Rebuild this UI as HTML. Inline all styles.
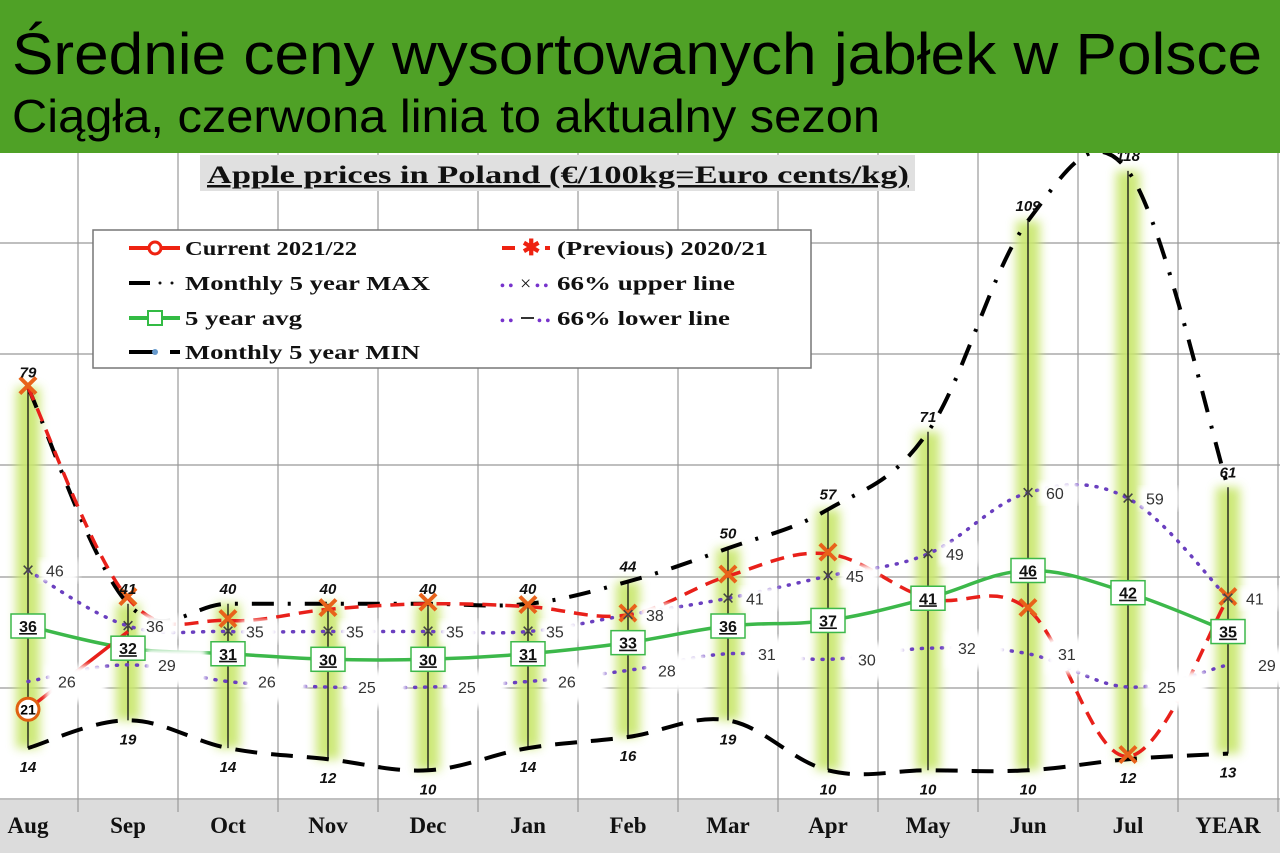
<!DOCTYPE html>
<html><head><meta charset="utf-8"><style>
html,body{margin:0;padding:0;width:1280px;height:853px;overflow:hidden;background:#fff}
</style></head><body>
<svg id="s" width="1280" height="853" xmlns="http://www.w3.org/2000/svg" font-family="Liberation Sans, sans-serif">
<defs><filter id="bl" x="-1" y="-0.2" width="3" height="1.4"><feGaussianBlur stdDeviation="5"/></filter>
<filter id="wb"><feGaussianBlur stdDeviation="3"/></filter></defs>
<rect x="0" y="0" width="1280" height="853" fill="#fff"/>
<rect x="0" y="800" width="1280" height="53" fill="#dcdcdc"/>
<g id="grid" stroke="#999" stroke-width="1.2"></g>
<g id="bars"></g>
<g id="lines"></g>
<g id="labels" font-size="15"></g>
<rect x="200" y="155" width="715" height="36" fill="#e0e0e0"/>
<text x="207" y="183" textLength="702" lengthAdjust="spacingAndGlyphs" font-family="Liberation Serif, serif" font-weight="bold" font-size="25" text-decoration="underline" fill="#111">Apple prices in Poland (€/100kg=Euro cents/kg)</text>
<rect x="93" y="230" width="718" height="138" fill="#fff" stroke="#777" stroke-width="1.5"/>
<g font-family="Liberation Serif, serif" font-weight="bold" font-size="20" fill="#111">
<line x1="129" y1="248" x2="180" y2="248" stroke="#e21" stroke-width="4"/><circle cx="155" cy="248" r="6" fill="#fff" stroke="#e21" stroke-width="3"/>
<text x="185" y="255" textLength="172" lengthAdjust="spacingAndGlyphs">Current 2021/22</text>
<line x1="129" y1="283" x2="150" y2="283" stroke="#000" stroke-width="4"/><circle cx="160" cy="283" r="1.5"/><circle cx="172" cy="283" r="1.5"/>
<text x="185" y="290" textLength="245" lengthAdjust="spacingAndGlyphs">Monthly 5 year MAX</text>
<line x1="129" y1="318" x2="180" y2="318" stroke="#3b4" stroke-width="4"/><rect x="148" y="311" width="14" height="14" fill="#fff" stroke="#3b4" stroke-width="2"/>
<text x="185" y="325" textLength="117" lengthAdjust="spacingAndGlyphs">5 year avg</text>
<line x1="129" y1="352" x2="155" y2="352" stroke="#000" stroke-width="4"/><circle cx="155" cy="352" r="3" fill="#69c"/><line x1="170" y1="352" x2="180" y2="352" stroke="#000" stroke-width="4"/>
<text x="185" y="359" textLength="235" lengthAdjust="spacingAndGlyphs">Monthly 5 year MIN</text>
<line x1="502" y1="248" x2="515" y2="248" stroke="#e21" stroke-width="4"/><text x="522" y="255" fill="#e21" font-size="22">✱</text><line x1="545" y1="248" x2="550" y2="248" stroke="#e21" stroke-width="4"/>
<text x="557" y="255" textLength="211" lengthAdjust="spacingAndGlyphs">(Previous) 2020/21</text>
<text x="500" y="290" fill="#73c" font-size="14">• •</text><text x="520" y="290" font-weight="normal">×</text><text x="535" y="290" fill="#73c" font-size="14">• •</text>
<text x="557" y="290" textLength="178" lengthAdjust="spacingAndGlyphs">66% upper line</text>
<text x="500" y="325" fill="#73c" font-size="14">• •</text><line x1="521" y1="318" x2="534" y2="318" stroke="#333" stroke-width="2"/><text x="537" y="325" fill="#73c" font-size="14">• •</text>
<text x="557" y="325" textLength="173" lengthAdjust="spacingAndGlyphs">66% lower line</text>
</g>
<rect x="0" y="0" width="1280" height="153" fill="#4fa126"/>
<text x="12" y="74" font-size="58" textLength="1250" lengthAdjust="spacingAndGlyphs" fill="#000">Średnie ceny wysortowanych jabłek w Polsce</text>
<text x="12" y="132" font-size="46" textLength="868" lengthAdjust="spacingAndGlyphs" fill="#000">Ciągła, czerwona linia to aktualny sezon</text>
</svg>
<script>
const NS="http://www.w3.org/2000/svg";
function el(p,t,a,txt){const e=document.createElementNS(NS,t);for(const k in a)e.setAttribute(k,a[k]);if(txt!==undefined)e.textContent=txt;document.getElementById(p).appendChild(e);return e;}
const X=i=>28+100*i, Y=v=>825.8-5.55*v;
for(let i=0;i<13;i++){el('grid','line',{x1:78+100*i,y1:153,x2:78+100*i,y2:812});}
[243,354,465,577,688,799].forEach(y=>el('grid','line',{x1:0,y1:y,x2:1280,y2:y}));
const MAX=[79,40,40,40,40,40,44,50,57,71,109,118,61];
const MIN=[14,19,14,12,10,14,16,19,10,10,10,12,13];
const PREV=[79,41,37,39,40,39.5,38,45,49,41,39,12.5,41];
const UP=[46,36,35,35,35,35,38,41,45,49,60,59,41];
const LO=[26,29,26,25,25,26,28,31,30,32,31,25,29];
const AVG=[36,32,31,30,30,31,33,36,37,41,46,42,35];
const MAXL=[79,41,40,40,40,40,44,50,57,71,109,118,61];
const months=["Aug","Sep","Oct","Nov","Dec","Jan","Feb","Mar","Apr","May","Jun","Jul","YEAR"];
for(let i=0;i<13;i++){
 el('bars','rect',{x:X(i)-12,y:Y(MAX[i]),width:24,height:Y(MIN[i])-Y(MAX[i]),fill:'#c8e66a',filter:'url(#bl)',opacity:0.9});
 el('bars','line',{x1:X(i),y1:Y(MAX[i]),x2:X(i),y2:Y(MIN[i]),stroke:'#111','stroke-width':1.3});
}
function path(vals){const p=vals.map((v,i)=>[X(i),Y(v)]);let d=`M${p[0][0]},${p[0][1]}`;
 for(let i=0;i<p.length-1;i++){const p0=p[Math.max(0,i-1)],p1=p[i],p2=p[i+1],p3=p[Math.min(p.length-1,i+2)];
 const t=0.18;d+=` C${p1[0]+(p2[0]-p0[0])*t},${p1[1]+(p2[1]-p0[1])*t} ${p2[0]-(p3[0]-p1[0])*t},${p2[1]-(p3[1]-p1[1])*t} ${p2[0]},${p2[1]}`;}return d;}
el('lines','path',{d:path(MAX),fill:'none',stroke:'#000','stroke-width':4,'stroke-dasharray':'22 14 3 14'});
el('lines','path',{d:path(MIN),fill:'none',stroke:'#000','stroke-width':4,'stroke-dasharray':'22 14'});
el('lines','path',{d:path(UP),fill:'none',stroke:'#6a3fbf','stroke-width':3.5,'stroke-dasharray':'1 9','stroke-linecap':'round'});
el('lines','path',{d:path(LO),fill:'none',stroke:'#6a3fbf','stroke-width':3.5,'stroke-dasharray':'1 9','stroke-linecap':'round'});
el('lines','path',{d:path(AVG),fill:'none',stroke:'#3cb84a','stroke-width':3.5});
el('lines','path',{d:path(PREV),fill:'none',stroke:'#e8201a','stroke-width':3.5,'stroke-dasharray':'14 9'});
el('lines','line',{x1:X(0),y1:Y(21),x2:X(1),y2:Y(35),stroke:'#e8201a','stroke-width':3.5});
el('lines','circle',{cx:X(0),cy:Y(21),r:11,fill:'#fff',stroke:'#e06010','stroke-width':3});
el('lines','text',{x:X(0),y:Y(21)+5,'text-anchor':'middle','font-size':14,'font-weight':'bold'},'21');
for(let i=0;i<13;i++){
 el('lines','text',{x:X(i),y:Y(PREV[i])+9,'text-anchor':'middle','font-size':30,'font-weight':'bold',fill:'#e8621a'},'✕');
 el('lines','text',{x:X(i),y:Y(UP[i])+7,'text-anchor':'middle','font-size':22,fill:'#444'},'×');
 el('labels','rect',{x:X(i)+12,y:Y(UP[i])-11,width:38,height:22,fill:'#fff',filter:'url(#wb)'});
 el('labels','text',{x:X(i)+18,y:Y(UP[i])+6,fill:'#333','font-size':16},String(UP[i]));
 el('labels','rect',{x:X(i)+18,y:Y(LO[i])-16,width:60,height:36,fill:'#fff',filter:'url(#wb)'});
 el('labels','text',{x:X(i)+30,y:Y(LO[i])+6,fill:'#333','font-size':16},String(LO[i]));
 const w=34;el('labels','rect',{x:X(i)-w/2,y:Y(AVG[i])-12,width:w,height:24,fill:'#fff',stroke:'#3cb84a','stroke-width':1.5});
 el('labels','text',{x:X(i),y:Y(AVG[i])+6,'text-anchor':'middle','font-weight':'bold','text-decoration':'underline',fill:'#111','font-size':16},String(AVG[i]));
 el('labels','text',{x:X(i),y:Y(MAX[i])-10,'text-anchor':'middle','font-weight':'bold','font-style':'italic',fill:'#111'},String(MAXL[i]));
 el('labels','text',{x:X(i),y:Y(MIN[i])+24,'text-anchor':'middle','font-weight':'bold','font-style':'italic',fill:'#111'},String(MIN[i]));
 el('labels','text',{x:X(i),y:833,'text-anchor':'middle','font-weight':'bold','font-size':23,'font-family':'Liberation Serif, serif',fill:'#111'},months[i]);
}
</script>
</body></html>
